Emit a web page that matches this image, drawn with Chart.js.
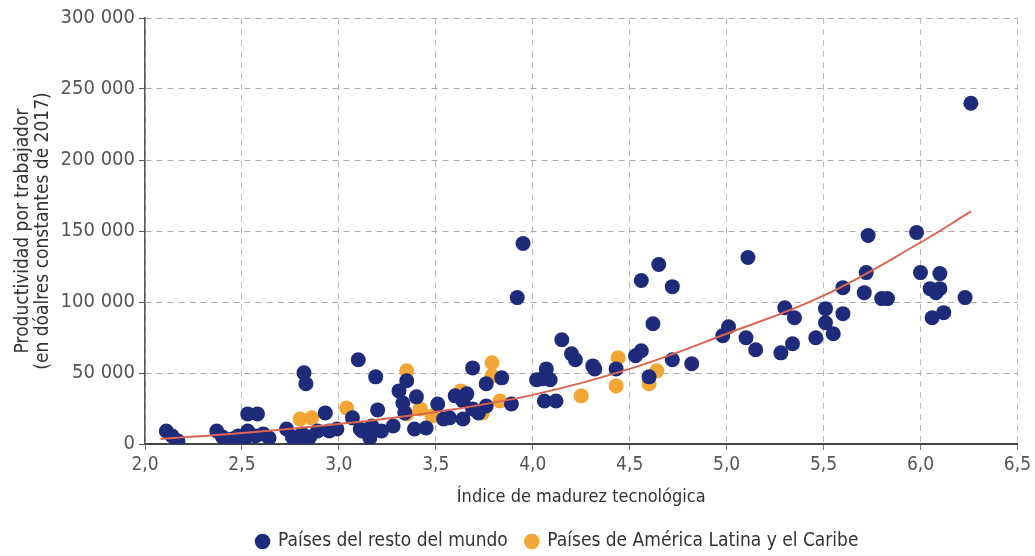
<!DOCTYPE html>
<html>
<head>
<meta charset="utf-8">
<script src="https://cdn.jsdelivr.net/npm/chart.js@4/dist/chart.umd.min.js"></script>
<style>
  html, body { margin: 0; padding: 0; background: #fff; }
  #wrap { width: 1035px; height: 556px; }
</style>
</head>
<body>
<div id="wrap"><canvas id="chart" width="1035" height="556"></canvas></div>
<script>
// data
var seriesNames = ['Países del resto del mundo', 'Países de América Latina y el Caribe'];

var restoX = [2.11, 2.14, 2.17, 2.37, 2.40, 2.45, 2.48, 2.51, 2.53, 2.53, 2.58, 2.57, 2.61, 2.64,
  2.73, 2.76, 2.79, 2.82, 2.83, 2.81, 2.85, 2.89, 2.93, 2.95, 2.99, 3.10, 3.07, 3.11, 3.12, 3.16,
  3.17, 3.19, 3.20, 3.22, 3.28, 3.31, 3.35, 3.33, 3.34, 3.39, 3.40, 3.45, 3.51, 3.54, 3.57, 3.60,
  3.64, 3.66, 3.64, 3.69, 3.69, 3.72, 3.76, 3.76, 3.84, 3.89, 3.92, 3.95, 4.02, 4.05, 4.07, 4.09,
  4.06, 4.12, 4.15, 4.20, 4.22, 4.31, 4.32, 4.43, 4.53, 4.56, 4.56, 4.60, 4.62, 4.65, 4.72, 4.72,
  4.82, 4.98, 5.01, 5.10, 5.11, 5.15, 5.28, 5.30, 5.35, 5.34, 5.46, 5.51, 5.51, 5.55, 5.60, 5.60,
  5.72, 5.73, 5.71, 5.80, 5.83, 5.98, 6.00, 6.05, 6.08, 6.10, 6.06, 6.12, 6.10, 6.23, 6.26];
var restoY = [9200, 5600, 2100, 9200, 4900, 3500, 5600, 2100, 9200, 21200, 21200, 5600, 7100, 4200,
  10600, 4900, 2100, 50100, 42400, 7100, 4900, 9200, 21900, 9200, 10600, 59300, 18400, 10600, 9200, 4200,
  12700, 47300, 24000, 9200, 12700, 37400, 44500, 28900, 21900, 10600, 33200, 11300, 28200, 17600, 18400, 33900,
  17600, 35300, 30300, 24700, 53600, 21900, 26800, 42400, 46600, 28200, 103100, 141200, 45200, 45900, 52900, 45200,
  30300, 30300, 73400, 63500, 59300, 55000, 52900, 52900, 62100, 65700, 115100, 47300, 84700, 126400, 110800, 59300,
  56500, 76200, 82600, 74800, 131300, 66400, 64200, 96000, 88900, 70600, 74800, 95300, 85400, 77600, 91800, 110100,
  120700, 146800, 106600, 102400, 102400, 149000, 120700, 109400, 106600, 109400, 88900, 92500, 120000, 103100, 240000];

var latamX = [2.80, 2.86, 3.04, 3.35, 3.35, 3.42, 3.48, 3.63, 3.74, 3.79, 3.79, 3.83, 4.25, 4.44, 4.43, 4.60, 4.64];
var latamY = [17600, 18400, 25400, 51500, 21200, 24700, 19800, 37400, 21900, 57200, 48000, 30300, 33900, 60700, 40900, 42400, 51500];

var trendX = [2.08, 2.5, 3.0, 3.5, 4.0, 4.5, 5.0, 5.5, 6.0, 6.26];
var trendY = [3500, 7800, 14100, 22600, 34600, 52900, 77600, 104500, 141900, 163800];

var xTicks = [2.0, 2.5, 3.0, 3.5, 4.0, 4.5, 5.0, 5.5, 6.0, 6.5];
var yTicks = [0, 50000, 100000, 150000, 200000, 250000, 300000];

function pts(xs, ys) {
  var out = [];
  for (var i = 0; i < xs.length; i++) out.push({x: xs[i], y: ys[i]});
  return out;
}
function spaced(v) {
  return String(v).replace(/\B(?=(\d{3})+(?!\d))/g, ' ');
}

var FONT = '"Liberation Sans Narrow", "DejaVu Sans Condensed", "Roboto", sans-serif';
var BLUE = '#1e2b7b';
var ORANGE = '#f3a535';

// the legend in the reference sits a bit right of centre
var legendShift = {
  id: 'legendShift',
  afterLayout: function (chart) {
    chart.legend.left += 42;
    chart.legend.right += 42;
  }
};

new Chart(document.getElementById('chart').getContext('2d'), {
  type: 'scatter',
  data: {
    datasets: [
      {
        label: 'trend',
        data: pts(trendX, trendY),
        showLine: true,
        borderColor: '#dd6550',
        borderWidth: 2,
        pointRadius: 0,
        tension: 0.4,
        fill: false,
        order: 0
      },
      {
        label: seriesNames[0],
        data: pts(restoX, restoY),
        backgroundColor: BLUE,
        borderColor: BLUE,
        borderWidth: 0,
        pointRadius: 7.5,
        order: 1
      },
      {
        label: seriesNames[1],
        data: pts(latamX, latamY),
        backgroundColor: ORANGE,
        borderColor: ORANGE,
        borderWidth: 0,
        pointRadius: 7.5,
        order: 2
      }
    ]
  },
  plugins: [legendShift],
  options: {
    responsive: false,
    animation: false,
    maintainAspectRatio: false,
    layout: { padding: { left: 12, right: 16, top: 18, bottom: -5 } },
    plugins: {
      tooltip: { enabled: false },
      legend: {
        position: 'bottom',
        labels: {
          filter: function (item) { return item.text !== 'trend'; },
          usePointStyle: true,
          pointStyle: 'circle',
          boxWidth: 12,
          boxHeight: 11,
          padding: 18,
          color: '#333',
          font: { family: FONT, size: 19 }
        }
      }
    },
    scales: {
      x: {
        type: 'linear',
        min: 2,
        max: 6.5,
        afterBuildTicks: function (scale) {
          scale.ticks = xTicks.map(function (v) { return {value: v}; });
        },
        afterFit: function (scale) { scale.height = 70; },
        ticks: {
          color: '#555',
          padding: 4,
          font: { family: FONT, size: 19 },
          callback: function (v) { return v.toFixed(1).replace('.', ','); }
        },
        grid: {
          color: '#bbbbbb',
          lineWidth: 1,
          tickLength: 6,
          tickColor: '#777',
          tickBorderDash: []
        },
        border: { display: true, color: '#444', width: 2, dash: [6, 5] },
        title: {
          display: true,
          text: 'Índice de madurez tecnológica',
          color: '#333',
          padding: { top: 0, bottom: 8 },
          font: { family: FONT, size: 18, lineHeight: 1 }
        }
      },
      y: {
        min: 0,
        max: 300000,
        afterBuildTicks: function (scale) {
          scale.ticks = yTicks.map(function (v) { return {value: v}; });
        },
        afterFit: function (scale) { scale.width = 133; },
        ticks: {
          color: '#555',
          padding: 4,
          font: { family: FONT, size: 20 },
          callback: function (v) { return spaced(v); }
        },
        grid: {
          color: '#aaaaaa',
          lineWidth: 1,
          tickLength: 6,
          tickColor: '#555',
          tickBorderDash: []
        },
        border: { display: true, color: '#555', width: 1.5, dash: [6, 5] },
        title: {
          display: true,
          text: ['Productividad por trabajador', '(en dóalres constantes de 2017)'],
          color: '#333',
          padding: { top: 1, bottom: 0 },
          font: { family: FONT, size: 19, lineHeight: 1.05 }
        }
      }
    }
  }
});
</script>
</body>
</html>
